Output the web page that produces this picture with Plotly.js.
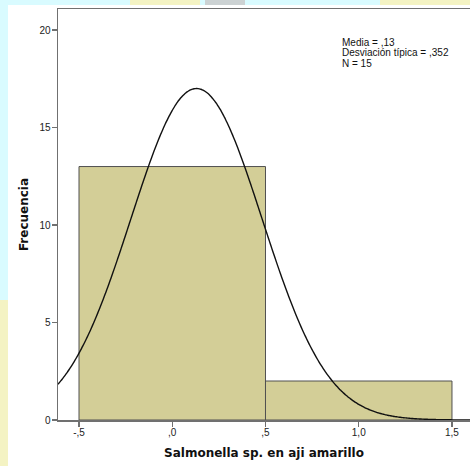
<!DOCTYPE html>
<html>
<head>
<meta charset="utf-8">
<script src="https://cdn.plot.ly/plotly-3.0.1.min.js"></script>
<style>
  html, body { margin: 0; padding: 0; background: #ffffff; }
  #chart { width: 470px; height: 466px; }
</style>
</head>
<body>
<div id="chart"></div>
<script>
// Histogram bins (lower edge, upper edge) and their frequencies
var binLower = [-0.5, 0.5];
var binUpper = [0.5, 1.5];
var binCounts = [13, 2];

// Summary statistics reported in the legend box
var statMean = 0.13;
var statStdDev = 0.352;
var statN = 15;

// Axis ticks
var xTickVals = [-0.5, 0, 0.5, 1.0, 1.5];
var xTickText = ['-,5', ',0', ',5', '1,0', '1,5'];
var yTickVals = [0, 5, 10, 15, 20];
var yTickText = ['0', '5', '10', '15', '20'];

var xRange = [-0.6126, 1.5966];
var yRange = [0, 21.08];

// Spanish-style number: comma decimal, no leading zero
function fmt(v, digits) {
  var s = v.toFixed(digits).replace('.', ',');
  if (s.indexOf('0,') === 0) s = s.slice(1);
  return s;
}

var centers = binLower.map(function (lo, i) { return (lo + binUpper[i]) / 2; });
var widths = binLower.map(function (lo, i) { return binUpper[i] - lo; });

// Normal curve scaled to the histogram (N * bin width * density)
var bw = widths[0];
var curveX = [], curveY = [];
var steps = 300;
for (var k = 0; k <= steps; k++) {
  var x = xRange[0] + (xRange[1] - xRange[0]) * k / steps;
  var z = (x - statMean) / statStdDev;
  curveX.push(x);
  curveY.push(statN * bw * Math.exp(-0.5 * z * z) / (statStdDev * Math.sqrt(2 * Math.PI)));
}

var bars = {
  type: 'bar',
  x: centers,
  y: binCounts,
  width: widths,
  marker: { color: '#d3ce97', line: { color: '#505050', width: 1 } },
  hoverinfo: 'x+y',
  showlegend: false
};

var curve = {
  type: 'scatter',
  mode: 'lines',
  x: curveX,
  y: curveY,
  line: { color: '#111111', width: 1.4, shape: 'spline' },
  hoverinfo: 'skip',
  showlegend: false,
  cliponaxis: true
};

var tickFont = { family: 'Liberation Sans, Arial, sans-serif', size: 10, color: '#222222' };
var titleFont = { family: 'DejaVu Sans, sans-serif', size: 12, color: '#111111', weight: 'bold' };
var noteFont = { family: 'Liberation Sans, Arial, sans-serif', size: 10, color: '#111111' };

var noteLines = [
  'Media = ' + fmt(statMean, 2),
  'Desviación típica = ' + fmt(statStdDev, 3),
  'N = ' + statN
];
var noteY = [42, 53, 64];
var annotations = noteLines.map(function (t, i) {
  return {
    text: t, xref: 'paper', yref: 'paper',
    x: (340.5 - 58) / 412, y: 1 - (noteY[i] - 9) / 411,
    xanchor: 'left', yanchor: 'middle', showarrow: false,
    borderpad: 0,
    font: noteFont
  };
});

// Page backdrop: pale strip along the top and left edges
var shapes = [
  { type: 'rect', xref: 'paper', yref: 'paper', layer: 'below',
    x0: (8 - 58) / 412, x1: 1.2, y0: -0.2, y1: 1 + (9 - 5) / 411,
    fillcolor: '#ffffff', line: { width: 0 } },
  { type: 'rect', xref: 'paper', yref: 'paper', layer: 'below',
    x0: -0.2, x1: (8 - 58) / 412, y0: -0.2, y1: (420 - 300) / 411,
    fillcolor: 'rgba(255,240,170,0.7)', line: { width: 0 } },
  { type: 'rect', xref: 'paper', yref: 'paper', layer: 'below',
    x0: (130 - 58) / 412, x1: (200 - 58) / 412, y0: 1 + (9 - 5) / 411, y1: 1.05,
    fillcolor: 'rgba(255,240,170,0.7)', line: { width: 0 } },
  { type: 'rect', xref: 'paper', yref: 'paper', layer: 'below',
    x0: (205 - 58) / 412, x1: (245 - 58) / 412, y0: 1 + (9 - 5) / 411, y1: 1.05,
    fillcolor: 'rgba(200,200,200,0.8)', line: { width: 0 } },
  { type: 'rect', xref: 'paper', yref: 'paper', layer: 'below',
    x0: (380 - 58) / 412, x1: 1.2, y0: 1 + (9 - 5) / 411, y1: 1.05,
    fillcolor: 'rgba(255,240,170,0.7)', line: { width: 0 } }
];

var layout = {
  width: 470,
  height: 466,
  margin: { l: 58, r: 0, t: 9, b: 46, pad: 0 },
  paper_bgcolor: '#d9fbff',
  plot_bgcolor: 'rgba(0,0,0,0)',
  showlegend: false,
  bargap: 0,
  xaxis: {
    range: xRange,
    tickvals: xTickVals,
    ticktext: xTickText,
    ticks: 'outside',
    ticklen: 5,
    tickwidth: 1.5,
    tickcolor: '#707070',
    tickfont: tickFont,
    ticklabelstandoff: -3,
    showline: true,
    linecolor: '#707070',
    linewidth: 1.5,
    mirror: true,
    showgrid: false,
    zeroline: false,
    title: { text: 'Salmonella sp. en aji amarillo', font: titleFont, standoff: 12 }
  },
  yaxis: {
    range: yRange,
    tickvals: yTickVals,
    ticktext: yTickText,
    ticks: 'outside',
    ticklen: 5,
    tickwidth: 1.5,
    tickcolor: '#707070',
    tickfont: tickFont,
    ticklabelstandoff: -1,
    showline: true,
    linecolor: '#707070',
    linewidth: 1.5,
    mirror: false,
    showgrid: false,
    zeroline: false,
    title: { text: 'Frecuencia', font: titleFont, standoff: 8 }
  },
  annotations: annotations,
  shapes: shapes
};

Plotly.newPlot('chart', [bars, curve], layout, { displayModeBar: false, staticPlot: true });
</script>
</body>
</html>
